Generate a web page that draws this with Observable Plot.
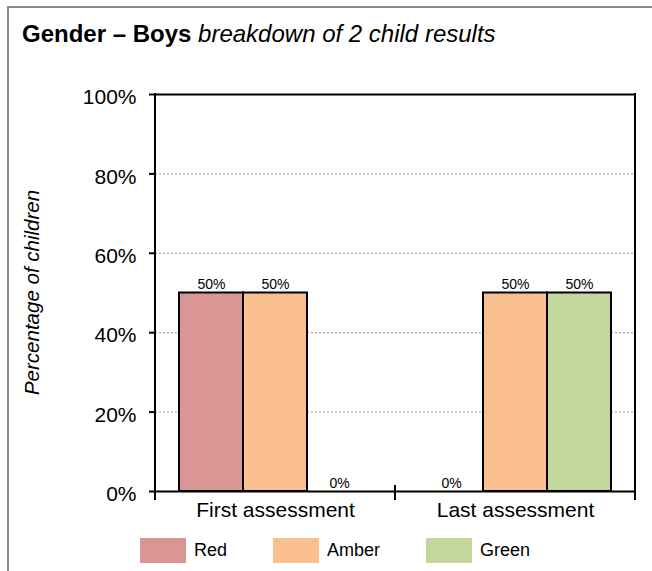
<!DOCTYPE html>
<html>
<head>
<meta charset="utf-8">
<script src="https://cdn.jsdelivr.net/npm/d3@7"></script>
<script src="https://cdn.jsdelivr.net/npm/@observablehq/plot@0.6"></script>
<style>
  html, body { margin: 0; padding: 0; background: #fff; }
  body { font-family: "Liberation Sans", Arial, sans-serif; color: #000; }
  #wrap { position: relative; width: 652px; height: 571px; overflow: hidden; }
  #border { position: absolute; left: 7px; top: 6px; width: 700px; height: 600px;
            border-left: 2px solid #8c8c8c; border-top: 2px solid #8c8c8c; }
  #title { position: absolute; left: 22px; top: 22px; font-size: 24px; line-height: 24px; white-space: nowrap; }
  #title b { font-weight: bold; }
  #title i { font-style: italic; }
  #chart { position: absolute; left: 0; top: 0; }
  #legend { position: absolute; left: 140px; top: 538px; display: flex; }
  .item { display: flex; align-items: center; }
  .sw { width: 46px; height: 25px; }
  .lb { margin-left: 8px; margin-right: 46px; font-size: 18px; line-height: 25px; }
</style>
</head>
<body>
<div id="wrap">
  <div id="border"></div>
  <div id="title"></div>
  <div id="chart"></div>
  <div id="legend"></div>
</div>
<script>
// ---- data ----
const titleBold = "Gender – Boys";
const titleItalic = "breakdown of 2 child results";
const yTitle = "Percentage of children";
const assessments = ["First assessment", "Last assessment"];
const ragBands = ["Red", "Amber", "Green"];
const ragColors = ["#D99694", "#FAC090", "#C3D69B"];
const firstValues = [50, 50, 0];
const lastValues = [0, 50, 50];
const yTicks = [0, 20, 40, 60, 80, 100];
const gridTicks = [20, 40, 60, 80];

const seriesByAssessment = [firstValues, lastValues];
const table = assessments.flatMap((a, i) =>
  ragBands.map((r, j) => ({assessment: a, rag: r, value: seriesByAssessment[i][j]})));

const pct = d => d + "%";

// ---- title ----
document.getElementById("title").innerHTML = "<b></b> <i></i>";
document.querySelector("#title b").textContent = titleBold;
document.querySelector("#title i").textContent = titleItalic;

// ---- chart ----
const chart = Plot.plot({
  width: 652,
  height: 530,
  marginTop: 94,
  marginBottom: 39,
  marginLeft: 155,
  marginRight: 17,
  style: {fontFamily: "'Liberation Sans', Arial, sans-serif", color: "#000", background: "transparent", overflow: "visible"},
  fx: {domain: assessments, padding: 0, label: null},
  x: {domain: ragBands, paddingInner: 0, paddingOuter: 0.375, axis: null},
  y: {domain: [0, 100], label: null},
  color: {domain: ragBands, range: ragColors},
  marks: [
    Plot.ruleY(gridTicks, {stroke: "#9a9a9a", strokeDasharray: "2,2", strokeWidth: 1}),
    Plot.barY(table, {fx: "assessment", x: "rag", y: "value", fill: "rag", stroke: "#000", strokeWidth: 2}),
    Plot.ruleY([0, 100], {stroke: "#000", strokeWidth: 2}),
    Plot.text(table, {fx: "assessment", x: "rag", y: "value", text: d => pct(d.value),
      lineAnchor: "bottom", dy: -4, fontSize: 14, fill: "#000"}),
    Plot.axisY(yTicks, {tickSize: 6, tickFormat: () => "", strokeWidth: 2, stroke: "#000"}),
    Plot.axisY(yTicks, {tickSize: 0, tickPadding: 19, dy: 3, fontSize: 21, tickFormat: pct, label: null, fill: "#000"}),
    Plot.axisFx({anchor: "bottom", tickSize: 0, tickPadding: 11, fontSize: 21, label: null, fill: "#000"})
  ]
});
document.getElementById("chart").appendChild(chart);

// frame sides and category boundary ticks, positioned with the plot's own scales
const svg = d3.select(chart);
const fx = chart.scale("fx");
const ys = chart.scale("y");
const last = fx.domain[fx.domain.length - 1];
const edges = fx.domain.map(d => fx.apply(d)).concat([fx.apply(last) + fx.bandwidth]);
const y0 = ys.apply(0), y100 = ys.apply(100);
edges.forEach((ex, i) => {
  const outer = i === 0 || i === edges.length - 1;
  svg.append("line")
    .attr("x1", ex).attr("x2", ex)
    .attr("y1", outer ? y100 - 1 : y0 - 6)
    .attr("y2", y0 + 9)
    .attr("stroke", "#000").attr("stroke-width", 2);
});
svg.append("text")
  .attr("transform", `translate(39,${(y0 + y100) / 2}) rotate(-90)`)
  .attr("text-anchor", "middle")
  .attr("font-style", "italic")
  .attr("font-size", 20.5)
  .attr("fill", "#000")
  .text(yTitle);

// ---- legend ----
const legend = d3.select("#legend");
ragBands.forEach((r, i) => {
  const it = legend.append("div").attr("class", "item");
  it.append("div").attr("class", "sw").style("background", ragColors[i]);
  it.append("div").attr("class", "lb").text(r);
});
</script>
</body>
</html>
